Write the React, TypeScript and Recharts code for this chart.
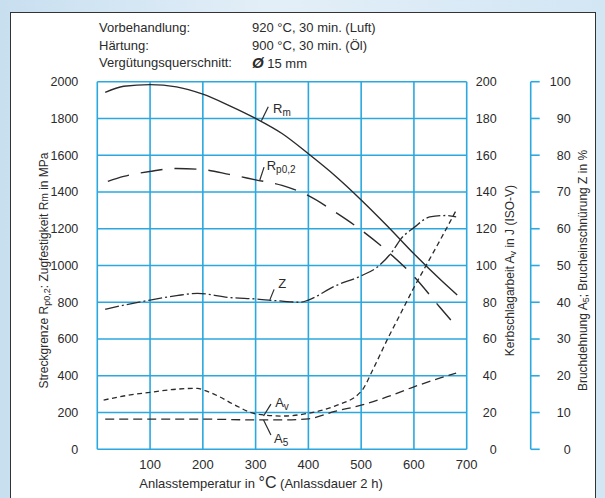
import React from "react";
import {
  ComposedChart,
  Line,
  XAxis,
  YAxis,
  CartesianGrid,
  ReferenceLine,
  ReferenceDot,
} from "recharts";

// Anlassschaubild: Festigkeit, Zähigkeit und Verformung über der Anlasstemperatur.

const font = "'Liberation Sans', Arial, Helvetica, sans-serif";
const ink = "#2b2b2b";
const grid = "#2aa8df";

const xTicks = [0, 100, 200, 300, 400, 500, 600, 700];
const mpaTicks = [0, 200, 400, 600, 800, 1000, 1200, 1400, 1600, 1800, 2000];
const avTicks = [0, 20, 40, 60, 80, 100, 120, 140, 160, 180, 200];
const pctTicks = [0, 10, 20, 30, 40, 50, 60, 70, 80, 90, 100];

const headerRows = [
  ["Vorbehandlung:", "920 °C, 30 min. (Luft)"],
  ["Härtung:", "900 °C, 30 min. (Öl)"],
  ["Vergütungsquerschnitt:", "Ø 15 mm"],
];

// Rm, MPa
const rmTemps = [15, 50, 100, 150, 200, 250, 300, 350, 400, 450, 500, 550, 600, 650, 682];
const rmValues = [1942, 1975, 1984, 1972, 1932, 1870, 1800, 1718, 1608, 1490, 1357, 1214, 1064, 924, 840];

// Rp0,2, MPa
const rpTemps = [20, 50, 100, 150, 200, 250, 300, 350, 400, 450, 500, 550, 600, 650, 675];
const rpValues = [1458, 1485, 1512, 1528, 1522, 1496, 1466, 1436, 1380, 1292, 1193, 1077, 940, 770, 686];

// Z, %
const zTemps = [15, 50, 100, 150, 190, 250, 300, 350, 385, 400, 450, 500, 530, 560, 575, 600, 630, 660, 680];
const zValues = [38.1, 39.2, 40.6, 41.8, 42.4, 41.3, 40.9, 40.3, 40.0, 40.6, 44.4, 47.2, 49.5, 54, 57.2, 60.3, 63.2, 63.6, 63.2];

// Av, J
const avTemps = [12, 50, 100, 150, 190, 200, 230, 260, 300, 350, 400, 450, 500, 525, 550, 575, 600, 625, 650, 680];
const avValues = [26.8, 29, 31, 32.7, 33.2, 32.4, 28.8, 24.2, 19.3, 18.1, 19.6, 23.5, 31.5, 45, 60, 74, 88, 101, 114, 130];

// A5, %
const a5Temps = [15, 100, 200, 300, 350, 400, 450, 500, 550, 600, 650, 680];
const a5Values = [8.2, 8.2, 8.2, 8.0, 8.0, 8.3, 10.3, 12.0, 14.3, 17.0, 19.4, 20.7];

const zip = (t: number[], v: number[]) => t.map((x, i) => ({ t: x, v: v[i] }));

// curve labels with leader lines, in MPa-axis coordinates
const notes = [
  { main: "R", sub: "m", at: [333, 1830], from: [311, 1788], to: [324, 1864] },
  { main: "R", sub: "p0,2", at: [321, 1518], from: [308, 1465], to: [316, 1535] },
  { main: "Z", sub: "", at: [343, 880], from: [327, 813], to: [335, 870] },
  { main: "A", sub: "v", at: [337, 232], from: [315, 181], to: [329, 246] },
  { main: "A", sub: "5", at: [335, 34], from: [315, 159], to: [329, 78] },
];

function NoteText({ viewBox, main, sub }: any) {
  return (
    <text x={viewBox.x} y={viewBox.y} fontSize={13} fill={ink} fontFamily={font}>
      {main}
      {sub && (
        <tspan fontSize={10} dy={3}>
          {sub}
        </tspan>
      )}
    </text>
  );
}

function SideLabel({ viewBox, dx, children }: any) {
  const cx = viewBox.x + dx;
  const cy = viewBox.y + viewBox.height / 2 + 5;
  return (
    <text
      x={cx}
      y={cy}
      transform={`rotate(-90, ${cx}, ${cy})`}
      textAnchor="middle"
      dominantBaseline="central"
      fontSize={12}
      fill={ink}
      fontFamily={font}
    >
      {children}
    </text>
  );
}

const tickStyle = { fontSize: 12.5, fill: ink, fontFamily: font, textAnchor: "end" };

export default function App() {
  return (
    <div
      style={{
        position: "absolute",
        left: 0,
        top: 0,
        width: 605,
        height: 498,
        overflow: "hidden",
        background: "linear-gradient(90deg, #c8dff0, #e3eff8 45%, #d3e6f4)",
        fontFamily: font,
      }}
    >
      <div
        style={{
          position: "absolute",
          left: 10,
          top: 12,
          width: 586,
          height: 510,
          background: "#fff",
          border: "1.5px solid #333",
          boxSizing: "border-box",
        }}
      />
      {headerRows.map(([k, v], i) => (
        <div key={k} style={{ position: "absolute", top: 20 + i * 17.5, fontSize: 13, lineHeight: "16px", color: ink }}>
          <span style={{ position: "absolute", left: 99, whiteSpace: "nowrap" }}>{k}</span>
          <span style={{ position: "absolute", left: 252, whiteSpace: "nowrap" }}>
            {v.startsWith("Ø") ? (
              <>
                <b style={{ fontStyle: "italic", fontSize: 15 }}>Ø</b>
                {v.slice(1)}
              </>
            ) : (
              v
            )}
          </span>
        </div>
      ))}
      <div style={{ position: "absolute", left: 0, top: 0 }}>
        <ComposedChart width={605} height={498} margin={{ top: 81.7, right: 0, bottom: 18.7, left: 0 }}>
          <CartesianGrid yAxisId="mpa" stroke={grid} strokeWidth={1.6} />
          <XAxis
            type="number"
            dataKey="t"
            domain={[0, 700]}
            ticks={xTicks}
            allowDataOverflow
            height={30}
            tickLine={false}
            axisLine={false}
            tickSize={0}
            tickMargin={10}
            tickFormatter={(v) => (v === 0 ? "" : String(v))}
            tick={{ fontSize: 13, fill: ink, fontFamily: font }}
            label={(p: any) => (
              <text x={p.viewBox.x + 42} y={p.viewBox.y + 39} fontSize={13} fill={ink} fontFamily={font}>
                Anlasstemperatur in <tspan fontSize={16}>°C</tspan> (Anlassdauer 2 h)
              </text>
            )}
          />
          <YAxis
            yAxisId="mpa"
            orientation="left"
            width={97.3}
            domain={[0, 2000]}
            ticks={mpaTicks}
            tickLine={false}
            axisLine={false}
            tickSize={0}
            tickMargin={19}
            tick={tickStyle}
            label={(p: any) => (
              <SideLabel viewBox={p.viewBox} dx={43.5}>
                Streckgrenze R<tspan fontSize={9} dy={3}>p0,2</tspan>
                <tspan dy={-3}>: Zugfestigkeit R</tspan>
                <tspan fontSize={10}>m</tspan> in MPa
              </SideLabel>
            )}
          />
          <YAxis
            yAxisId="av"
            orientation="right"
            width={64}
            domain={[0, 200]}
            ticks={avTicks}
            tickLine={false}
            axisLine={false}
            tickSize={0}
            tickMargin={30}
            tick={tickStyle}
            label={(p: any) => (
              <SideLabel viewBox={p.viewBox} dx={43.5}>
                Kerbschlagarbeit A<tspan fontSize={9} dy={3}>v</tspan>
                <tspan dy={-3}> in J (ISO-V)</tspan>
              </SideLabel>
            )}
          />
          <YAxis
            yAxisId="z"
            orientation="right"
            width={74.3}
            domain={[0, 100]}
            ticks={pctTicks}
            axisLine={{ stroke: grid, strokeWidth: 1.6 }}
            tickLine={{ stroke: grid, strokeWidth: 1.6 }}
            tickSize={9}
            tickMargin={31}
            tick={tickStyle}
            label={(p: any) => (
              <SideLabel viewBox={p.viewBox} dx={52.5}>
                Bruchdehnung A<tspan fontSize={9} dy={3}>5</tspan>
                <tspan dy={-3}>; Brucheinschnürung Z in %</tspan>
              </SideLabel>
            )}
          />

          <Line yAxisId="mpa" data={zip(rmTemps, rmValues)} dataKey="v" type="monotone" stroke={ink} strokeWidth={1.4} dot={false} isAnimationActive={false} />
          <Line yAxisId="mpa" data={zip(rpTemps, rpValues)} dataKey="v" type="monotone" stroke={ink} strokeWidth={1.4} strokeDasharray="22 12" dot={false} isAnimationActive={false} />
          <Line yAxisId="z" data={zip(zTemps, zValues)} dataKey="v" type="monotone" stroke={ink} strokeWidth={1.3} strokeDasharray="14 3 2 3" dot={false} isAnimationActive={false} />
          <Line yAxisId="av" data={zip(avTemps, avValues)} dataKey="v" type="monotone" stroke={ink} strokeWidth={1.3} strokeDasharray="5 3.5" dot={false} isAnimationActive={false} />
          <Line yAxisId="z" data={zip(a5Temps, a5Values)} dataKey="v" type="monotone" stroke={ink} strokeWidth={1.3} strokeDasharray="9 5" dot={false} isAnimationActive={false} />

          {notes.map((n, i) => (
            <ReferenceLine
              key={`l${i}`}
              yAxisId="mpa"
              segment={[
                { x: n.from[0], y: n.from[1] },
                { x: n.to[0], y: n.to[1] },
              ]}
              stroke={ink}
              strokeWidth={1.2}
            />
          ))}
          {notes.map((n, i) => (
            <ReferenceDot
              key={`d${i}`}
              yAxisId="mpa"
              x={n.at[0]}
              y={n.at[1]}
              r={0}
              stroke="none"
              fill="none"
              label={(p: any) => <NoteText viewBox={p.viewBox} main={n.main} sub={n.sub} />}
            />
          ))}
        </ComposedChart>
      </div>
    </div>
  );
}
